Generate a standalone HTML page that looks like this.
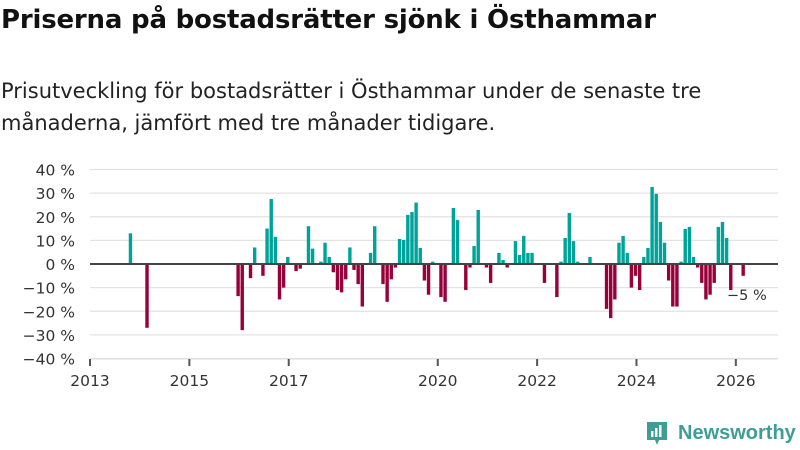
<!DOCTYPE html>
<html><head><meta charset="utf-8"><style>
body{margin:0;width:800px;height:450px;background:#fff;font-family:"DejaVu Sans","Liberation Sans",sans-serif;overflow:hidden;position:relative}
#title{position:absolute;left:1px;top:5px;font-size:26px;font-weight:bold;color:#111;margin:0;letter-spacing:-0.2px;white-space:nowrap}
#sub{position:absolute;left:1px;top:75px;font-size:21px;line-height:32px;color:#222;width:760px;letter-spacing:0}
svg{position:absolute;left:0;top:0}
</style></head><body>
<h1 id="title">Priserna på bostadsrätter sjönk i Östhammar</h1>
<div id="sub">Prisutveckling för bostadsrätter i Östhammar under de senaste tre månaderna, jämfört med tre månader tidigare.</div>
<svg id="chart" width="800" height="450"></svg>
<script>
const months=["2013-10","2014-02","2015-12","2016-01","2016-03","2016-04","2016-06","2016-07","2016-08","2016-09","2016-10","2016-11","2016-12",
"2017-02","2017-03","2017-05","2017-06","2017-08","2017-09","2017-10","2017-11","2017-12",
"2018-01","2018-02","2018-03","2018-04","2018-05","2018-06","2018-08","2018-09","2018-11","2018-12",
"2019-01","2019-02","2019-03","2019-04","2019-05","2019-06","2019-07","2019-08","2019-09","2019-10","2019-11",
"2020-01","2020-02","2020-04","2020-05","2020-07","2020-08","2020-09","2020-10","2020-12",
"2021-01","2021-03","2021-04","2021-05","2021-07","2021-08","2021-09","2021-10","2021-11",
"2022-02","2022-05","2022-06","2022-07","2022-08","2022-09","2022-10",
"2023-01","2023-05","2023-06","2023-07","2023-08","2023-09","2023-10","2023-11","2023-12",
"2024-01","2024-02","2024-03","2024-04","2024-05","2024-06","2024-07","2024-08","2024-09","2024-10","2024-11","2024-12",
"2025-01","2025-02","2025-03","2025-04","2025-05","2025-06","2025-07","2025-08","2025-09","2025-10","2025-11","2026-02"];
const values=[13,-27,-13.6,-28,-6,7,-5,15,27.5,11.5,-15,-10,3,
-3,-2,16,6.5,1,9,3,-3.5,-11,
-12,-6.5,7,-2.5,-8.5,-18,4.7,16,-8.5,-16,
-6.5,-1.5,10.6,10.2,20.8,22,26,6.8,-7,-13,1,
-14,-16,23.7,18.6,-11,-1.5,7.6,22.9,-1.5,
-8,4.7,1.7,-1.5,9.7,3.8,11.9,4.7,4.7,
-8,-14,1,11,21.6,9.7,1,
3,-19,-22.9,-15,9,11.9,4.7,-10,-5,
-11,3,6.8,32.6,29.7,17.8,9,-7,-18,-18,1,14.8,
15.7,3,-1.5,-8,-15,-13,-8,15.7,17.8,11,-11,-5];
const yTicks=[40,30,20,10,0,-10,-20,-30,-40];
const xTicks=[2013,2015,2017,2020,2022,2024,2026];
const NS="http://www.w3.org/2000/svg",svg=document.getElementById('chart');
const x0=90,pxMonth=4.14,y0=264,pxPct=2.3625;
const xs=m=>x0+m*pxMonth;
const ys=v=>y0-v*pxPct;
function mk(t,a){const e=document.createElementNS(NS,t);for(const k in a)e.setAttribute(k,a[k]);svg.appendChild(e);return e;}
yTicks.forEach(v=>{
 const g=mk('line',{x1:x0,x2:778,y1:ys(v),y2:ys(v),stroke:'#e3e3e3','stroke-width':1.3});
 
 
 const t=mk('text',{x:75,y:ys(v)+6,'text-anchor':'end','font-size':15.5,fill:'#333'});
 t.textContent=(v<0?'−'+(-v):v)+' %';
 
 
});
const ax=mk('line',{x1:x0,x2:778,y1:359,y2:359,stroke:'#ddd','stroke-width':1});


xTicks.forEach(yr=>{
 const X=xs((yr-2013)*12);
 const l=mk('line',{x1:X,x2:X,y1:359,y2:366,stroke:'#555','stroke-width':2});
 
 
 const t=mk('text',{x:X,y:386,'text-anchor':'middle','font-size':15.5,fill:'#333'});
 t.textContent=yr;
 
 
});
months.forEach((m,i)=>{
 const [y,mo]=m.split('-').map(Number);
 const idx=(y-2013)*12+(mo-1);
 const v=values[i];
 const r=mk('rect',{x:xs(idx)+1.5,width:3.4,y:Math.min(ys(v),y0),height:Math.abs(ys(v)-y0),fill:v>=0?'#00a39a':'#98003a'});
 
 
});
const z=mk('line',{x1:x0,x2:778,y1:y0,y2:y0,stroke:'#444','stroke-width':2});


const lab=mk('text',{x:727,y:300,'font-size':14.5,fill:'#333'});
lab.textContent='−5 %';


</script>
<div style="position:absolute;left:645px;top:420px;height:26px;display:flex;align-items:center">
<svg width="24" height="26" style="position:static"><path d="M2 2h20v18h-8l-2 5-2-5H2z" fill="#3e9e96"/><rect x="6" y="11" width="2.5" height="6" fill="#fff"/><rect x="10" y="8" width="2.5" height="9" fill="#fff"/><rect x="14" y="5" width="2.5" height="12" fill="#fff"/></svg>
<span style="font-size:20px;color:#3e9e96;margin-left:9px;font-weight:bold;font-family:'Liberation Sans',sans-serif">Newsworthy</span></div>
</body></html>
